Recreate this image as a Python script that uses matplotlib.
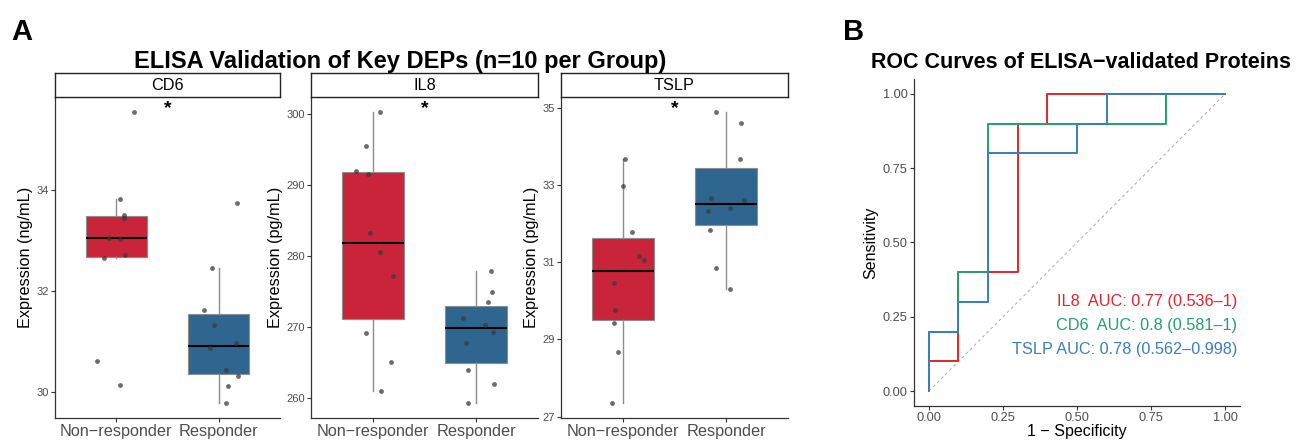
import matplotlib
matplotlib.use("Agg")
import matplotlib.pyplot as plt
import numpy as np
from matplotlib.transforms import blended_transform_factory

plt.rcParams['font.family'] = ['Liberation Sans', 'DejaVu Sans']

# ---------------- data ----------------
groups = ["Non\u2212responder", "Responder"]
proteins = ["CD6", "IL8", "TSLP"]
units = ["ng/mL", "pg/mL", "pg/mL"]

cd6_nonresp = [35.55, 33.82, 33.50, 33.44, 33.06, 33.04, 32.71, 32.66, 30.61, 30.14]
cd6_nonresp_jitter = [0.17, 0.04, 0.07, 0.07, -0.07, 0.04, 0.08, -0.12, -0.19, 0.04]
cd6_resp = [33.75, 32.45, 31.63, 31.34, 30.98, 30.87, 30.44, 30.33, 30.13, 29.78]
cd6_resp_jitter = [0.18, -0.06, -0.14, -0.05, 0.17, -0.08, 0.07, 0.19, 0.09, 0.07]

il8_nonresp = [300.37, 295.5, 292.06, 291.54, 283.22, 280.6, 277.24, 269.25, 265.14, 261.03]
il8_nonresp_jitter = [0.07, -0.07, -0.16, -0.05, -0.03, 0.07, 0.19, -0.07, 0.18, 0.08]
il8_resp = [277.99, 274.95, 273.55, 271.36, 270.37, 269.35, 267.8, 264.07, 262.1, 259.3]
il8_resp_jitter = [0.14, 0.15, 0.12, -0.13, 0.09, 0.16, -0.10, -0.08, 0.17, -0.08]

tslp_nonresp = [33.68, 32.96, 31.77, 31.17, 31.06, 30.46, 29.75, 29.42, 28.67, 27.34]
tslp_nonresp_jitter = [0.02, 0.0, 0.09, 0.16, 0.20, -0.09, -0.08, -0.09, -0.05, -0.11]
tslp_resp = [34.90, 34.60, 33.68, 32.67, 32.61, 32.39, 32.33, 31.83, 30.85, 30.30]
tslp_resp_jitter = [-0.10, 0.14, 0.13, -0.15, 0.17, 0.04, -0.18, -0.16, -0.10, 0.04]

cd6_ticks = [30, 32, 34]
il8_ticks = [260, 270, 280, 290, 300]
tslp_ticks = [27, 29, 31, 33, 35]

# ROC curves (1 - specificity, sensitivity)
roc_names = ["IL8", "CD6", "TSLP"]
il8_fpr = [0, 0, 0.1, 0.1, 0.3, 0.3, 0.4, 0.4, 1]
il8_tpr = [0, 0.1, 0.1, 0.4, 0.4, 0.9, 0.9, 1, 1]
cd6_fpr = [0, 0, 0.1, 0.1, 0.2, 0.2, 0.8, 0.8, 1]
cd6_tpr = [0, 0.2, 0.2, 0.4, 0.4, 0.9, 0.9, 1, 1]
tslp_fpr = [0, 0, 0.1, 0.1, 0.2, 0.2, 0.5, 0.5, 0.6, 0.6, 1]
tslp_tpr = [0, 0.2, 0.2, 0.3, 0.3, 0.8, 0.8, 0.9, 0.9, 1, 1]
roc_auc = [0.77, 0.8, 0.78]
roc_ci_low = [0.536, 0.581, 0.562]
roc_ci_high = ["1", "1", "0.998"]
roc_ticks = [0.0, 0.25, 0.5, 0.75, 1.0]

# ---------------- styles ----------------
W, H = 1296, 441
BOX_COLORS = ["#C9243A", "#2E6690"]
ROC_COLORS = ["#E0262C", "#23A06F", "#3A7DC2"]
TXT_GRAY = "#4D4D4D"
SPINE = "#333333"

fig = plt.figure(figsize=(W / 100, H / 100), dpi=100)


def px_rect(x0, y0, x1, y1):
    return [x0 / W, 1 - y1 / H, (x1 - x0) / W, (y1 - y0) / H]


panel_data = [
    (cd6_nonresp, cd6_nonresp_jitter, cd6_resp, cd6_resp_jitter, cd6_ticks),
    (il8_nonresp, il8_nonresp_jitter, il8_resp, il8_resp_jitter, il8_ticks),
    (tslp_nonresp, tslp_nonresp_jitter, tslp_resp, tslp_resp_jitter, tslp_ticks),
]
panel_x = [(55, 280), (311, 538), (561, 788)]
top_px, strip_top, bottom_px = 97, 73, 418

for i, (name, unit, (nr, nrj, rs, rsj, ticks), (x0, x1)) in enumerate(
        zip(proteins, units, panel_data, panel_x)):
    ax = fig.add_axes(px_rect(x0, top_px, x1, bottom_px))
    vals = [nr, rs]
    bp = ax.boxplot(vals, positions=[1, 2], widths=0.6, whis=1.5,
                    showfliers=False, showcaps=False, patch_artist=True,
                    medianprops=dict(color="black", linewidth=1.5),
                    whiskerprops=dict(color="#8C8C8C", linewidth=1.0),
                    boxprops=dict(edgecolor="#8C8C8C", linewidth=0.8))
    for patch, c in zip(bp['boxes'], BOX_COLORS):
        patch.set_facecolor(c)
    for k, (v, j) in enumerate([(nr, nrj), (rs, rsj)]):
        ax.scatter(np.array(j) + (k + 1), v, s=12, color="#3A3A3A",
                   alpha=0.75, zorder=5, linewidths=0)
    allv = np.concatenate([nr, rs])
    lo, hi = allv.min(), allv.max()
    pad = 0.05 * (hi - lo)
    ax.set_ylim(lo - pad, hi + pad)
    ax.set_xlim(0.4, 2.6)
    ax.set_yticks(ticks)
    ax.set_yticklabels([str(t) for t in ticks])
    ax.set_xticks([1, 2])
    ax.set_xticklabels(groups)
    for s in ["top", "right"]:
        ax.spines[s].set_visible(False)
    for s in ["left", "bottom"]:
        ax.spines[s].set_color(SPINE)
        ax.spines[s].set_linewidth(0.9)
    ax.tick_params(axis='y', labelsize=8.0, labelcolor=TXT_GRAY, color=SPINE,
                   length=3, width=0.8, pad=1.5)
    ax.tick_params(axis='x', labelsize=11.7, labelcolor=TXT_GRAY, color=SPINE,
                   length=3, width=0.8, pad=1.5)
    ax.set_ylabel(f"Expression ({unit})", fontsize=11.7, labelpad=2)
    tr = blended_transform_factory(ax.transData, ax.transAxes)
    ax.text(1.5, 0.965, "*", transform=tr, ha='center', va='center',
            fontsize=14, fontweight='bold')
    # strip
    sax = fig.add_axes(px_rect(x0, strip_top, x1, top_px))
    sax.set_xticks([])
    sax.set_yticks([])
    sax.set_facecolor("white")
    for s in sax.spines.values():
        s.set_color("#222222")
        s.set_linewidth(1.0)
    sax.text(0.5, 0.5, name, ha='center', va='center', fontsize=11.7,
             transform=sax.transAxes)

fig.text(400 / W, 1 - 68 / H, "ELISA Validation of Key DEPs (n=10 per Group)",
         ha='center', va='baseline', fontsize=17, fontweight='bold')
fig.text(11 / W, 1 - 40 / H, "A", ha='left', va='baseline', fontsize=21,
         fontweight='bold')
fig.text(843 / W, 1 - 40 / H, "B", ha='left', va='baseline', fontsize=21,
         fontweight='bold')

# ---------------- ROC ----------------
rax = fig.add_axes(px_rect(914, 79, 1240, 406))
rax.plot([0, 1], [0, 1], linestyle=(0, (3, 3)), color="#AAAAAA", linewidth=0.7)
for fpr, tpr, c in zip([il8_fpr, cd6_fpr, tslp_fpr], [il8_tpr, cd6_tpr, tslp_tpr],
                       ROC_COLORS):
    rax.plot(fpr, tpr, color=c, linewidth=1.4)
rax.set_xlim(-0.05, 1.05)
rax.set_ylim(-0.05, 1.05)
rax.set_xticks(roc_ticks)
rax.set_yticks(roc_ticks)
rax.set_xticklabels([f"{t:.2f}" for t in roc_ticks])
rax.set_yticklabels([f"{t:.2f}" for t in roc_ticks])
for s in ["top", "right"]:
    rax.spines[s].set_visible(False)
for s in ["left", "bottom"]:
    rax.spines[s].set_color(SPINE)
    rax.spines[s].set_linewidth(0.9)
rax.tick_params(labelsize=9.2, labelcolor=TXT_GRAY, color=SPINE, length=3,
                width=0.8, pad=1.5)
rax.set_xlabel("1 \u2212 Specificity", fontsize=11.5, labelpad=0)
rax.set_ylabel("Sensitivity", fontsize=11.5, labelpad=3)
label_y = [0.30, 0.22, 0.14]
for name, auc, lo, hi, c, yy in zip(roc_names, roc_auc, roc_ci_low, roc_ci_high,
                                     ROC_COLORS, label_y):
    pad_name = name + (" " if len(name) < 4 else "")
    rax.text(1.04, yy, f"{pad_name} AUC: {auc:g} ({lo:g}\u2013{hi})", color=c,
             ha='right', va='center', fontsize=11.7)
fig.text(1081 / W, 1 - 68 / H, "ROC Curves of ELISA\u2212validated Proteins",
         ha='center', va='baseline', fontsize=15.5, fontweight='bold')

fig.savefig("out.png", dpi=100)
